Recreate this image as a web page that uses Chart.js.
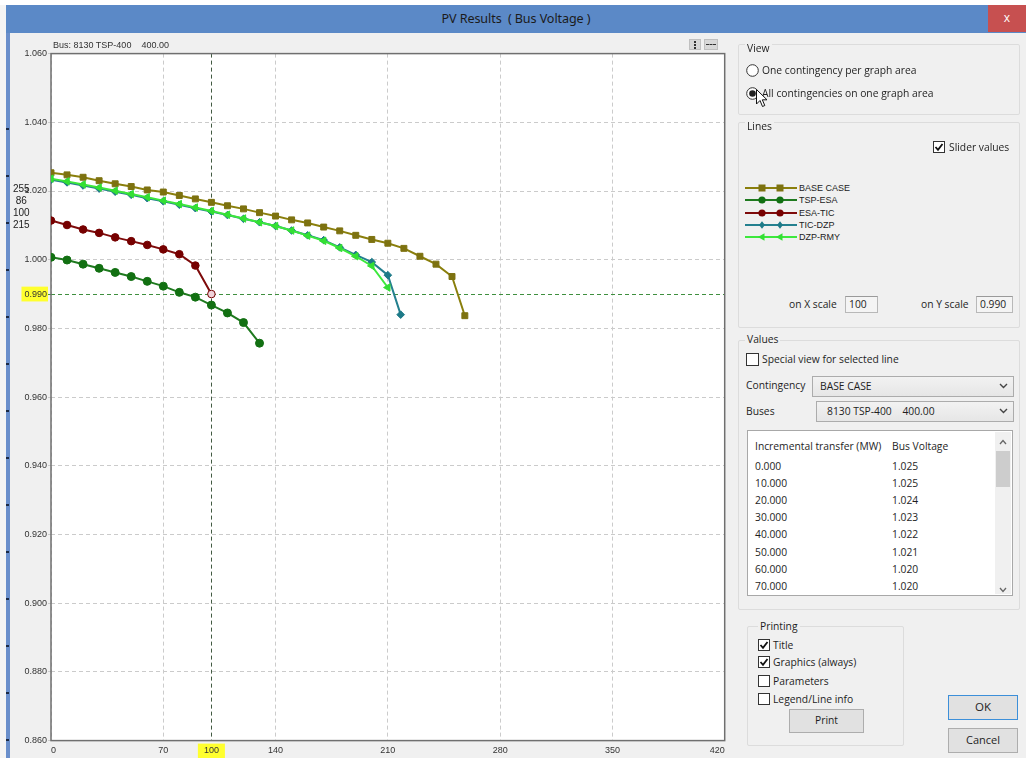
<!DOCTYPE html>
<html>
<head>
<meta charset="utf-8">
<title>PV Results ( Bus Voltage )</title>
<script src="https://cdn.jsdelivr.net/npm/chart.js@4.4.1/dist/chart.umd.min.js"></script>
<style>
  html, body { margin: 0; padding: 0; background: #ffffff; }
  #win { position: relative; width: 1026px; height: 758px; overflow: hidden; background: #f0f0f0;
         font-family: "Open Sans", "Noto Sans", sans-serif; font-size: 10.3px; color: #1e1e1e; }
  .abs { position: absolute; white-space: nowrap; }
  .group { position: absolute; border: 1px solid #dcdcdc; border-radius: 2px; }
  .glabel { position: absolute; background: #f0f0f0; padding: 0 2px; line-height: 13px; }
  .combo { position: absolute; border: 1px solid #acacac; background: linear-gradient(#f2f2f2, #e6e6e6); line-height: 18px; }
  .btn { position: absolute; border: 1px solid #adadad; background: #e1e1e1; text-align: center; }
  .field { position: absolute; border: 1px solid #b8b8b8; border-top-color: #9a9a9a; background: #f4f4f4; line-height: 15px; padding-left: 3px; box-sizing: border-box; }
  #list { position: absolute; left: 747px; top: 430px; width: 266px; height: 166px; background: #fff; border: 1px solid #a8a8a8; box-sizing: border-box; overflow: hidden; }
  .row { position: absolute; left: 7px; width: 240px; line-height: 14px; }
  .row span.v { position: absolute; left: 137px; }
</style>
</head>
<body>
<div id="win">
  <!-- window frame -->
  <div class="abs" style="left:0;top:0;width:1026px;height:5px;background:#ffffff;"></div>
  <div class="abs" style="left:0;top:5px;width:6px;height:753px;background:#f4f4f4;"></div>
  <div class="abs" style="left:6px;top:5px;width:4px;height:753px;background:#6a8fcb;"></div>
  <div id="edgeMarks"></div>
  <div class="abs" style="left:6px;top:5px;width:1020px;height:28px;background:#5b89c7;"></div>
  <div class="abs" style="left:6px;top:5px;width:1020px;height:28px;line-height:28px;text-align:center;font-family:'Noto Sans','Open Sans',sans-serif;font-size:12.6px;color:#1b1b1b;letter-spacing:-0.1px;">PV Results&nbsp; ( Bus Voltage )</div>
  <div class="abs" style="left:988px;top:5px;width:38px;height:27px;background:#c75050;color:#fff;text-align:center;line-height:26px;font-size:12px;">x</div>

  <!-- chart panel -->
  <div class="abs" style="left:10px;top:33px;width:726px;height:725px;background:#f0f0f0;"></div>
  <canvas id="pv" class="abs" width="723" height="722" style="left:12px;top:36px;"></canvas>
  <div class="abs" style="left:53px;top:40px;font-family:'Liberation Sans',Arial,sans-serif;font-size:9px;color:#333;white-space:pre;">Bus: 8130 TSP-400    400.00</div>
  <div class="abs" style="left:13px;top:183px;font-family:'Liberation Sans',Arial,sans-serif;font-size:10px;line-height:12px;color:#222;">255<br>&nbsp;86<br>100<br>215</div>
  <div class="abs" style="left:689px;top:39px;width:12px;height:11px;background:#d8d8d8;border:1px solid #c0c0c0;box-sizing:border-box;">
    <div class="abs" style="left:4px;top:1px;width:2px;height:2px;background:#333;"></div>
    <div class="abs" style="left:4px;top:4px;width:2px;height:2px;background:#333;"></div>
    <div class="abs" style="left:4px;top:7px;width:2px;height:2px;background:#333;"></div>
  </div>
  <div class="abs" style="left:704px;top:39px;width:14px;height:11px;background:#d8d8d8;border:1px solid #c0c0c0;box-sizing:border-box;">
    <div class="abs" style="left:1px;top:4px;width:10px;height:0;border-top:1px dashed #333;"></div>
  </div>

  <!-- View -->
  <div class="group" style="left:738px;top:44px;width:280px;height:69px;"></div>
  <div class="glabel" style="left:745px;top:42px;">View</div>
  <svg class="abs" style="left:746px;top:64px;" width="13" height="13"><circle cx="6.5" cy="6.5" r="5.8" fill="#fff" stroke="#333" stroke-width="1"/></svg>
  <div class="abs" style="left:762px;top:63px;">One contingency per graph area</div>
  <svg class="abs" style="left:746px;top:87px;" width="13" height="13"><circle cx="6.5" cy="6.5" r="5.8" fill="#fff" stroke="#333" stroke-width="1"/><circle cx="6.5" cy="6.5" r="3.3" fill="#222"/></svg>
  <div class="abs" style="left:762px;top:86px;">All contingencies on one graph area</div>
  <svg class="abs" style="left:756px;top:89px;" width="12" height="20"><path d="M0.5 0.5 L0.5 15 L4 11.5 L6.5 17.5 L8.8 16.5 L6.3 10.8 L11 10.8 Z" fill="#fff" stroke="#111" stroke-width="1"/></svg>

  <!-- Lines -->
  <div class="group" style="left:738px;top:122px;width:280px;height:204px;"></div>
  <div class="glabel" style="left:745px;top:120px;">Lines</div>
  <svg class="abs" style="left:933px;top:141px;" width="12" height="12"><rect x="0.5" y="0.5" width="11" height="11" fill="#fff" stroke="#333"/><path d="M2.5 6 L5 8.8 L9.5 3" stroke="#111" stroke-width="1.8" fill="none"/></svg>
  <div class="abs" style="left:949px;top:140px;">Slider values</div>
  <div id="legend" class="abs" style="left:745px;top:182px;"></div>
  <div class="abs" style="left:789px;top:297px;">on X scale</div>
  <div class="field" style="left:845px;top:296px;width:33px;height:17px;">100</div>
  <div class="abs" style="left:921px;top:297px;">on Y scale</div>
  <div class="field" style="left:976px;top:296px;width:37px;height:17px;">0.990</div>

  <!-- Values -->
  <div class="group" style="left:738px;top:340px;width:280px;height:268px;"></div>
  <div class="glabel" style="left:745px;top:333px;">Values</div>
  <svg class="abs" style="left:746px;top:353px;" width="13" height="13"><rect x="0.5" y="0.5" width="12" height="12" fill="#fff" stroke="#333"/></svg>
  <div class="abs" style="left:762px;top:352px;">Special view for selected line</div>
  <div class="abs" style="left:746px;top:378px;">Contingency</div>
  <div class="combo" style="left:812px;top:376px;width:200px;height:19px;"><span style="position:absolute;left:7px;">BASE CASE</span>
    <svg style="position:absolute;right:5px;top:6px;" width="9" height="6"><path d="M1 1 L4.5 4.5 L8 1" stroke="#444" stroke-width="1.4" fill="none"/></svg></div>
  <div class="abs" style="left:746px;top:404px;">Buses</div>
  <div class="combo" style="left:816px;top:401px;width:196px;height:19px;"><span style="position:absolute;left:10px;white-space:pre;">8130 TSP-400    400.00</span>
    <svg style="position:absolute;right:5px;top:6px;" width="9" height="6"><path d="M1 1 L4.5 4.5 L8 1" stroke="#444" stroke-width="1.4" fill="none"/></svg></div>
  <div id="list">
    <div class="row" style="top:8px;">Incremental transfer (MW)<span class="v">Bus Voltage</span></div>
    <div id="rows"></div>
    <div style="position:absolute;left:247px;top:1px;width:16px;height:162px;background:#f0f0f0;"></div>
    <svg style="position:absolute;left:251px;top:8px;" width="8" height="6"><path d="M1 5 L4 1.5 L7 5" stroke="#666" stroke-width="1.3" fill="none"/></svg>
    <div style="position:absolute;left:248px;top:20px;width:14px;height:36px;background:#cdcdcd;"></div>
    <svg style="position:absolute;left:251px;top:156px;" width="8" height="6"><path d="M1 1 L4 4.5 L7 1" stroke="#666" stroke-width="1.3" fill="none"/></svg>
  </div>

  <!-- Printing -->
  <div class="group" style="left:747px;top:626px;width:155px;height:118px;"></div>
  <div class="glabel" style="left:758px;top:620px;">Printing</div>
  <svg class="abs" style="left:758px;top:639px;" width="12" height="12"><rect x="0.5" y="0.5" width="11" height="11" fill="#fff" stroke="#333"/><path d="M2.5 6 L5 8.8 L9.5 3" stroke="#111" stroke-width="1.8" fill="none"/></svg>
  <div class="abs" style="left:773px;top:638px;">Title</div>
  <svg class="abs" style="left:758px;top:656px;" width="12" height="12"><rect x="0.5" y="0.5" width="11" height="11" fill="#fff" stroke="#333"/><path d="M2.5 6 L5 8.8 L9.5 3" stroke="#111" stroke-width="1.8" fill="none"/></svg>
  <div class="abs" style="left:773px;top:655px;">Graphics (always)</div>
  <svg class="abs" style="left:758px;top:675px;" width="12" height="12"><rect x="0.5" y="0.5" width="11" height="11" fill="#fff" stroke="#333"/></svg>
  <div class="abs" style="left:773px;top:674px;">Parameters</div>
  <svg class="abs" style="left:758px;top:693px;" width="12" height="12"><rect x="0.5" y="0.5" width="11" height="11" fill="#fff" stroke="#333"/></svg>
  <div class="abs" style="left:773px;top:692px;">Legend/Line info</div>
  <div class="btn" style="left:789px;top:709px;width:73px;height:22px;line-height:21px;">Print</div>

  <div class="btn" style="left:948px;top:695px;width:68px;height:23px;line-height:22px;border-color:#3c8fd9;font-size:11.5px;">OK</div>
  <div class="btn" style="left:948px;top:728px;width:68px;height:23px;line-height:22px;font-size:11px;">Cancel</div>
</div>

<script>
// Incremental transfer (MW) and bus voltage (p.u.) for bus 8130 TSP-400, per contingency
const baseCaseMW = [0, 10, 20, 30, 40, 50, 60, 70, 80, 90, 100, 110, 120, 130, 140, 150, 160, 170, 180, 190, 200, 210, 220, 230, 240, 250, 258];
const baseCaseV  = [1.0253, 1.0247, 1.0240, 1.0230, 1.0221, 1.0213, 1.0203, 1.0197, 1.0187, 1.0177, 1.0167, 1.0157, 1.0148, 1.0137, 1.0127, 1.0116, 1.0107, 1.0095, 1.0084, 1.0071, 1.0059, 1.0048, 1.0033, 1.0010, 0.9987, 0.9951, 0.9837];

const tspEsaMW = [0, 10, 20, 30, 40, 50, 60, 70, 80, 90, 100, 110, 120, 130];
const tspEsaV  = [1.0007, 0.9999, 0.9987, 0.9975, 0.9963, 0.9951, 0.9937, 0.9923, 0.9905, 0.9891, 0.9868, 0.9845, 0.9817, 0.9757];

const esaTicMW = [0, 10, 20, 30, 40, 50, 60, 70, 80, 90, 100];
const esaTicV  = [1.0114, 1.0101, 1.0088, 1.0078, 1.0065, 1.0054, 1.0043, 1.0030, 1.0016, 0.9983, 0.9900];

const ticDzpMW = [0, 10, 20, 30, 40, 50, 60, 70, 80, 90, 100, 110, 120, 130, 140, 150, 160, 170, 180, 190, 200, 210, 218];
const ticDzpV  = [1.0233, 1.0225, 1.0216, 1.0207, 1.0198, 1.0189, 1.0179, 1.0170, 1.0160, 1.0150, 1.0140, 1.0130, 1.0119, 1.0109, 1.0098, 1.0085, 1.0071, 1.0057, 1.0036, 1.0014, 0.9993, 0.9955, 0.9840];

const dzpRmyMW = [0, 10, 20, 30, 40, 50, 60, 70, 80, 90, 100, 110, 120, 130, 140, 150, 160, 170, 180, 190, 200, 210];
const dzpRmyV  = [1.0236, 1.0228, 1.0219, 1.0210, 1.0201, 1.0191, 1.0182, 1.0172, 1.0162, 1.0152, 1.0142, 1.0131, 1.0120, 1.0109, 1.0098, 1.0085, 1.0070, 1.0055, 1.0034, 1.0010, 0.9982, 0.9919];

const seriesNames = ['BASE CASE', 'TSP-ESA', 'ESA-TIC', 'TIC-DZP', 'DZP-RMY'];
const xTickValues = [0, 70, 100, 140, 210, 280, 350, 420];
const yTickValues = [1.060, 1.040, 1.020, 1.000, 0.990, 0.980, 0.960, 0.940, 0.920, 0.900, 0.880, 0.860];
const sliderMW = 100;
const sliderV = 0.990;

// small tick marks on the window's left edge
(function () {
  const box = document.getElementById('edgeMarks');
  for (let y = 128; y < 758; y += 47) {
    const m = document.createElement('div');
    m.className = 'abs';
    m.style.cssText = 'left:6px;top:' + y + 'px;width:3px;height:2px;background:#1c2a44;';
    box.appendChild(m);
  }
})();

function pts(xs, ys) { return xs.map((x, i) => ({ x: x, y: ys[i] })); }

const styles = [
  { line: '#8a7f0c', fill: '#7d7210', shape: 'rect',    r: 4.2, rot: 0 },
  { line: '#1f7a1f', fill: '#127012', shape: 'circle',  r: 4.0, rot: 0 },
  { line: '#7e0b0b', fill: '#760000', shape: 'circle',  r: 3.8, rot: 0 },
  { line: '#24808f', fill: '#1d7a88', shape: 'rectRot', r: 3.8, rot: 0 },
  { line: '#3de83d', fill: '#33e033', shape: 'triangle', r: 4.3, rot: -90 }
];
const seriesData = [pts(baseCaseMW, baseCaseV), pts(tspEsaMW, tspEsaV), pts(esaTicMW, esaTicV), pts(ticDzpMW, ticDzpV), pts(dzpRmyMW, dzpRmyV)];

const datasets = seriesNames.map((name, k) => {
  const s = styles[k];
  const data = seriesData[k];
  const isSliderPoint = (i) => data[i] && data[i].x === sliderMW && Math.abs(data[i].y - sliderV) < 1e-6;
  return {
    label: name,
    data: data,
    borderColor: s.line,
    borderWidth: 2,
    pointStyle: s.shape,
    pointRadius: s.r,
    pointRotation: s.rot,
    pointBorderColor: s.fill,
    pointBorderWidth: 1,
    pointBackgroundColor: (ctx) => isSliderPoint(ctx.dataIndex) ? '#f0d2da' : s.fill,
    tension: 0,
    order: 5 - k
  };
});

// white plotting area with a framed border under the series
const plotFrame = {
  id: 'plotFrame',
  beforeDraw(chart) {
    const { ctx, chartArea: a } = chart;
    ctx.save();
    ctx.fillStyle = '#ffffff';
    ctx.fillRect(a.left, a.top, a.right - a.left, a.bottom - a.top);
    ctx.restore();
  },
  beforeDatasetsDraw(chart) {
    const { ctx, chartArea: a } = chart;
    ctx.save();
    ctx.strokeStyle = '#6f6f6f';
    ctx.lineWidth = 1.5;
    ctx.strokeRect(a.left, a.top, a.right - a.left, a.bottom - a.top);
    ctx.restore();
  }
};

const tickFont = { family: "'Liberation Sans', Arial, sans-serif", size: 9 };

new Chart(document.getElementById('pv'), {
  type: 'line',
  data: { datasets: datasets },
  plugins: [plotFrame],
  options: {
    responsive: false,
    animation: false,
    devicePixelRatio: 1,
    layout: { padding: { top: 17.6, right: 10.3, left: 0, bottom: 0 } },
    plugins: { legend: { display: false }, tooltip: { enabled: false }, title: { display: false } },
    scales: {
      x: {
        type: 'linear', min: 0, max: 420,
        afterBuildTicks: (s) => { s.ticks = xTickValues.map(v => ({ value: v })); },
        afterFit: (s) => { s.height = 17.4; },
        ticks: {
          font: tickFont, color: '#333', padding: 5, align: 'inner', autoSkip: false, maxRotation: 0,
          callback: (v) => String(v),
          showLabelBackdrop: (ctx) => !!ctx.tick && ctx.tick.value === sliderMW,
          backdropColor: '#ffff2e',
          backdropPadding: { top: 2, bottom: 2, left: 6, right: 6 }
        },
        grid: {
          drawTicks: false,
          lineWidth: 1,
          color: (ctx) => (ctx.tick && ctx.tick.value === sliderMW) ? '#425a42' : '#cbcbcb'
        },
        border: { display: false, dash: [4, 3] }
      },
      y: {
        type: 'linear', min: 0.86, max: 1.06,
        afterBuildTicks: (s) => { s.ticks = yTickValues.map(v => ({ value: v })); },
        afterFit: (s) => { s.width = 39; },
        ticks: {
          font: tickFont, color: '#333', padding: 1, autoSkip: false,
          callback: (v) => Number(v).toFixed(3),
          showLabelBackdrop: (ctx) => !!ctx.tick && Math.abs(ctx.tick.value - sliderV) < 1e-9,
          backdropColor: '#ffff2e',
          backdropPadding: { top: 2, bottom: 2, left: 3, right: 1 }
        },
        grid: {
          drawTicks: true, tickLength: 3, lineWidth: 1,
          color: (ctx) => (ctx.tick && Math.abs(ctx.tick.value - sliderV) < 1e-9) ? '#3f8f3f' : '#cbcbcb'
        },
        border: { display: false, dash: [4, 3] }
      }
    }
  }
});

// legend entries in the Lines group, built from the same series definitions
(function () {
  const host = document.getElementById('legend');
  seriesNames.forEach((name, k) => {
    const s = styles[k];
    const row = document.createElement('div');
    row.style.cssText = 'position:absolute;left:0;top:' + (k * 12.3) + 'px;height:12px;width:120px;';
    let marker = '';
    [17, 35].forEach(cx => {
      if (s.shape === 'rect') marker += '<rect x="' + (cx - 3.5) + '" y="2.5" width="7" height="7" fill="' + s.fill + '"/>';
      else if (s.shape === 'circle') marker += '<circle cx="' + cx + '" cy="6" r="3.6" fill="' + s.fill + '"/>';
      else if (s.shape === 'rectRot') marker += '<path d="M' + cx + ' 2.3 L' + (cx + 3) + ' 6 L' + cx + ' 9.7 L' + (cx - 3) + ' 6 Z" fill="' + s.fill + '"/>';
      else marker += '<path d="M' + (cx - 4) + ' 6 L' + (cx + 2.5) + ' 2.3 L' + (cx + 2.5) + ' 9.7 Z" fill="' + s.fill + '"/>';
    });
    row.innerHTML = '<svg style="position:absolute;left:0;top:0;" width="52" height="12"><line x1="0" y1="6" x2="52" y2="6" stroke="' + s.line + '" stroke-width="2"/>' + marker + '</svg>' +
      '<span style="position:absolute;left:54px;top:0;line-height:12px;font-family:\'Liberation Sans\',Arial,sans-serif;font-size:9px;color:#222;">' + name + '</span>';
    host.appendChild(row);
  });
})();

// transfer / voltage table for the selected contingency
(function () {
  const host = document.getElementById('rows');
  for (let i = 0; i < 8; i++) {
    const r = document.createElement('div');
    r.className = 'row';
    r.style.top = (28 + i * 17.1) + 'px';
    r.innerHTML = baseCaseMW[i].toFixed(3) + '<span class="v">' + baseCaseV[i].toFixed(3) + '</span>';
    host.appendChild(r);
  }
})();
</script>
</body>
</html>
